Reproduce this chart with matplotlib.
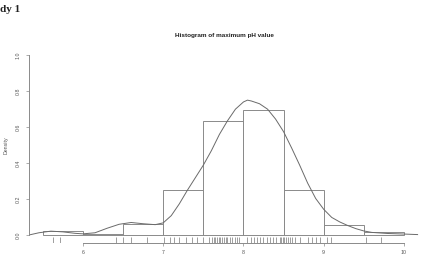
import matplotlib
matplotlib.use("Agg")
import matplotlib.pyplot as plt
import matplotlib.transforms as mtransforms

# ---- data ----
bin_edges = [5.5, 6.0, 6.5, 7.0, 7.5, 8.0, 8.5, 9.0, 9.5, 10.0]
bin_density = [0.025, 0.01, 0.065, 0.25, 0.635, 0.695, 0.25, 0.06, 0.018]

kde_x = [5.33, 5.45, 5.6, 5.75, 5.9, 6.0, 6.15, 6.3, 6.45, 6.6, 6.75, 6.9, 7.0,
         7.1, 7.2, 7.3, 7.4, 7.5, 7.6, 7.7, 7.8, 7.9, 8.0, 8.05, 8.1, 8.2, 8.3,
         8.4, 8.5, 8.6, 8.7, 8.8, 8.9, 9.0, 9.1, 9.2, 9.3, 9.4, 9.5, 9.6, 9.8,
         10.0, 10.17]
kde_y = [0.003, 0.015, 0.024, 0.02, 0.012, 0.009, 0.015, 0.04, 0.062, 0.072,
         0.065, 0.06, 0.07, 0.11, 0.175, 0.25, 0.32, 0.39, 0.47, 0.56, 0.635,
         0.70, 0.74, 0.75, 0.745, 0.73, 0.70, 0.645, 0.575, 0.485, 0.39, 0.29,
         0.205, 0.145, 0.10, 0.075, 0.055, 0.038, 0.025, 0.017, 0.011, 0.008,
         0.005]

rug_values = [5.62, 5.71, 6.41, 6.50, 6.60, 6.80, 7.01, 7.09, 7.13, 7.20, 7.28,
              7.36, 7.42, 7.50, 7.57, 7.61, 7.63, 7.65, 7.67, 7.69, 7.71, 7.73,
              7.76, 7.78, 7.80, 7.83, 7.86, 7.90, 7.92, 7.95, 8.05, 8.09, 8.13,
              8.17, 8.21, 8.24, 8.29, 8.33, 8.37, 8.41, 8.45, 8.47, 8.49, 8.51,
              8.53, 8.55, 8.58, 8.60, 8.64, 8.70, 8.80, 8.85, 8.91, 8.95, 9.04,
              9.09, 9.53, 9.71]

x_ticks = [6, 7, 8, 9, 10]
y_ticks = [0.0, 0.2, 0.4, 0.6, 0.8, 1.0]
y_tick_labels = ["0.0", "0.2", "0.4", "0.6", "0.8", "1.0"]

title = "Histogram of maximum pH value"
y_label = "Density"
header = "dy 1"

# ---- figure ----
W, H = 428, 267
fig = plt.figure(figsize=(W / 100, H / 100), dpi=100)
fig.patch.set_facecolor("white")
plt.rcParams["font.family"] = ["Liberation Sans", "DejaVu Sans"]

left, right, top, bottom = 29, 420, 47.8, 242.7
ax = fig.add_axes([left / W, 1 - bottom / H, (right - left) / W, (bottom - top) / H])
ax.set_xlim(5.327, 10.2)
ax.set_ylim(-0.04, 1.04)

line_col = "#8a8a8a"
curve_col = "#6a6a6a"

widths = [bin_edges[i + 1] - bin_edges[i] for i in range(len(bin_density))]
ax.bar(bin_edges[:-1], bin_density, width=widths, align="edge",
       facecolor="none", edgecolor=line_col, linewidth=0.7)

ax.plot(kde_x, kde_y, color=curve_col, linewidth=0.7)

trans = mtransforms.blended_transform_factory(ax.transData, ax.transAxes)
ax.vlines(rug_values, 0, 0.03, transform=trans, color="#777777", linewidth=0.5)

for s in ["top", "right"]:
    ax.spines[s].set_visible(False)
ax.spines["left"].set_bounds(0, 1)
ax.spines["bottom"].set_bounds(6, 10)
ax.spines["left"].set_color(line_col)
ax.spines["bottom"].set_color(line_col)
ax.spines["left"].set_linewidth(0.7)
ax.spines["bottom"].set_linewidth(0.7)

ax.set_xticks(x_ticks)
ax.set_xticklabels([str(v) for v in x_ticks])
ax.set_yticks(y_ticks)
ax.set_yticklabels(y_tick_labels, rotation=90, va="center")
ax.tick_params(axis="both", direction="out", length=2.2, width=0.5,
               color=line_col, labelsize=3.8, labelcolor="#555555", pad=3)
ax.tick_params(axis="y", pad=4)

ax.set_ylabel(y_label, fontsize=3.8, color="#555555", labelpad=5)
ax.set_title(title, fontsize=4.6, fontweight="bold", color="#222222", pad=8)

fig.text(0.5 / W, 1 - 9 / H, header, ha="left", va="center",
         fontsize=8, fontweight="bold", family=["Liberation Serif", "DejaVu Serif"],
         color="#222222")

fig.savefig("out.png", dpi=100)
